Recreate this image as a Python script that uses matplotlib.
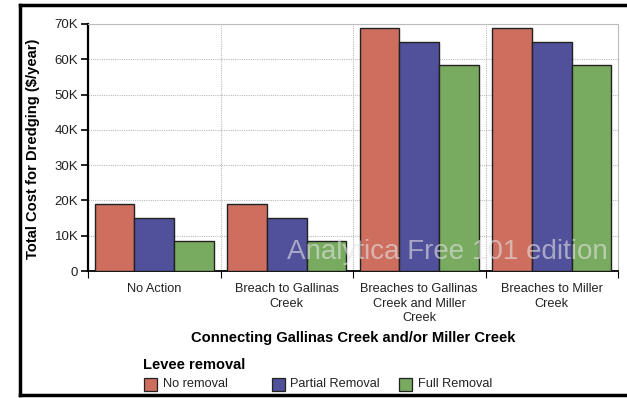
import matplotlib
matplotlib.use("Agg")
import matplotlib.pyplot as plt
from matplotlib.patches import Rectangle
from matplotlib.lines import Line2D
import numpy as np

plt.rcParams['font.family'] = ['Liberation Sans', 'DejaVu Sans']

categories = ["No Action", "Breach to Gallinas\nCreek",
              "Breaches to Gallinas\nCreek and Miller\nCreek",
              "Breaches to Miller\nCreek"]
series_names = ["No removal", "Partial Removal", "Full Removal"]
no_removal = [19000, 19000, 69000, 69000]
partial_removal = [15000, 15000, 65000, 65000]
full_removal = [8500, 8500, 58400, 58400]
series_values = [no_removal, partial_removal, full_removal]
colors = ["#CD6E5F", "#50509B", "#78AA5F"]
yticks = [0, 10000, 20000, 30000, 40000, 50000, 60000, 70000]
ytick_labels = ["0", "10K", "20K", "30K", "40K", "50K", "60K", "70K"]

W, H = 627, 398
fig = plt.figure(figsize=(W / 100, H / 100), dpi=100)

# outer frame
fig.add_artist(Line2D([20 / W, 20 / W], [3 / H, 393 / H], color='black', lw=2.5, transform=fig.transFigure))
fig.add_artist(Line2D([20 / W, 1.0], [393 / H, 393 / H], color='black', lw=2.5, transform=fig.transFigure))
fig.add_artist(Line2D([20 / W, 1.0], [3 / H, 3 / H], color='black', lw=2.5, transform=fig.transFigure))

ax = fig.add_axes([88 / W, (H - 271) / H, 530 / W, 247 / H])
x = np.arange(len(categories))
bw = 0.3
for i, (vals, c) in enumerate(zip(series_values, colors)):
    ax.bar(x + (i - 1) * bw, vals, width=bw, color=c, edgecolor='#222222', linewidth=1.0, zorder=3)

ax.set_xlim(-0.5, len(categories) - 0.5)
ax.set_ylim(0, 70000)
ax.set_yticks(yticks)
ax.set_yticklabels(ytick_labels, fontsize=9.5, color='#222222')
ax.set_xticks(np.arange(-0.5, len(categories), 1.0))
ax.set_xticklabels([])
ax.tick_params(axis='x', direction='out', length=5, color='black')
ax.tick_params(axis='y', direction='out', length=5, color='black', width=1.2, pad=2)

for xv in [0.5, 1.5, 2.5]:
    ax.axvline(xv, color='#BBBBBB', lw=0.8, ls=(0, (1, 1)), zorder=1)
for yv in yticks[1:]:
    ax.axhline(yv, color='#BBBBBB', lw=0.8, ls=(0, (1, 1)), zorder=1)

ax.spines['left'].set_linewidth(1.6)
ax.spines['bottom'].set_linewidth(1.3)
for s in ['top', 'right']:
    ax.spines[s].set_color('#BBBBBB')
    ax.spines[s].set_linestyle((0, (1, 1)))
    ax.spines[s].set_linewidth(0.8)

for xi, lab in zip(x, categories):
    ax.text(xi, -3400, lab, ha='center', va='top', fontsize=9.2, color='#222222', linespacing=1.3)

fig.text(353 / W, 1 - 338 / H, "Connecting Gallinas Creek and/or Miller Creek",
         ha='center', va='center', fontsize=10.6, fontweight='bold')
fig.text(33 / W, 1 - 149 / H, "Total Cost for Dredging ($/year)", rotation=90,
         ha='center', va='center', fontsize=10.6, fontweight='bold')

# watermark
fig.text(447 / W, 1 - 252 / H, "Analytica Free 101 edition", ha='center', va='center',
         fontsize=20, color='#E4E4E4', alpha=0.6, zorder=10)

# legend
fig.text(143 / W, 1 - 365 / H, "Levee removal", ha='left', va='center', fontsize=10.5, fontweight='bold')
leg_x0, leg_pitch, leg_y = 144, 127.5, 384
for i, (c, n) in enumerate(zip(colors, series_names)):
    px = leg_x0 + i * leg_pitch
    fig.add_artist(Rectangle(((px) / W, 1 - (leg_y + 6.5) / H), 13 / W, 13 / H,
                             facecolor=c, edgecolor='#222222', lw=0.9, transform=fig.transFigure))
    fig.text((px + 19) / W, 1 - leg_y / H, n, ha='left', va='center', fontsize=9.2, color='#222222')

fig.savefig("out.png", dpi=100)
